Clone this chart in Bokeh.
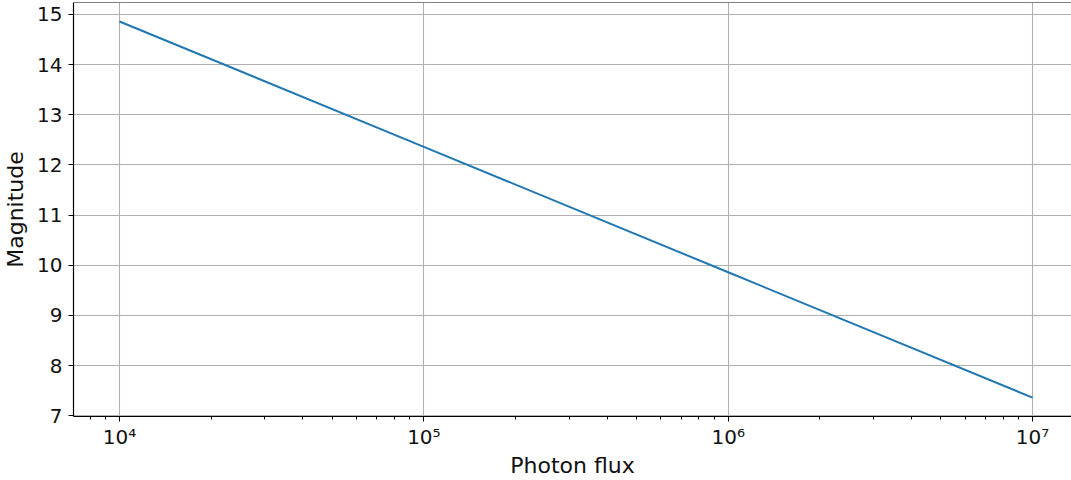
from bokeh.plotting import figure
from bokeh.models import FixedTicker, CustomJSTickFormatter, Span, Range1d
from bokeh.embed import file_html
from bokeh.resources import INLINE

# Data
photon_flux = [1e4, 1e5, 1e6, 1e7]
magnitude = [14.86, 12.36, 9.86, 7.36]

x_major_ticks = [1e4, 1e5, 1e6, 1e7]
x_minor_ticks = [m * 10 ** e for e in range(3, 8) for m in range(2, 10)]
y_ticks = [7, 8, 9, 10, 11, 12, 13, 14, 15]

x_lo, x_hi = 10 ** 3.8488, 10 ** 7.128
y_lo, y_hi = 6.985, 15.238

p = figure(width=1071, height=480, x_axis_type="log",
           x_range=Range1d(x_lo, x_hi), y_range=Range1d(y_lo, y_hi),
           output_backend="svg", toolbar_location=None,
           min_border_left=73, min_border_right=0,
           min_border_top=2, min_border_bottom=62)
p.outline_line_color = None
p.background_fill_color = "white"
p.border_fill_color = "white"

p.line(photon_flux, magnitude, line_color="#1f77b4", line_width=2)

# top spine
p.add_layout(Span(location=y_hi, dimension="width", line_color="black", line_width=1.2))

tick_font = "DejaVu Sans"
for ax in (p.xaxis[0], p.yaxis[0]):
    ax.axis_line_color = "black"
    ax.axis_line_width = 1.2
    ax.major_tick_line_color = "black"
    ax.major_tick_in = 0
    ax.major_tick_out = 5
    ax.minor_tick_line_color = "black"
    ax.minor_tick_in = 0
    ax.minor_tick_out = 3
    ax.major_label_text_font = tick_font
    ax.major_label_text_font_size = "20px"
    ax.major_label_text_color = "#111111"
    ax.axis_label_text_font = tick_font
    ax.axis_label_text_font_size = "22px"
    ax.axis_label_text_font_style = "normal"
    ax.axis_label_text_color = "#111111"

p.xaxis.ticker = FixedTicker(ticks=x_major_ticks, minor_ticks=x_minor_ticks)
p.xaxis.formatter = CustomJSTickFormatter(code="""
const sup = {'0':'\u2070','1':'\u00b9','2':'\u00b2','3':'\u00b3','4':'\u2074','5':'\u2075','6':'\u2076','7':'\u2077','8':'\u2078','9':'\u2079','-':'\u207b'};
const e = Math.round(Math.log10(tick)).toString();
let s = '';
for (const c of e) s += sup[c];
return '10' + s;
""")
p.xaxis.major_label_standoff = 3
p.xaxis.axis_label = "Photon flux"
p.xaxis.axis_label_standoff = 1

p.yaxis.ticker = FixedTicker(ticks=y_ticks, minor_ticks=[])
p.yaxis.major_label_standoff = 6
p.yaxis.axis_label = "Magnitude"
p.yaxis.axis_label_standoff = 6

p.xgrid.ticker = FixedTicker(ticks=x_major_ticks)
p.ygrid.ticker = FixedTicker(ticks=y_ticks)
for g in (p.xgrid[0], p.ygrid[0]):
    g.grid_line_color = "#b0b0b0"
    g.grid_line_width = 1.1

open("out.html", "w").write(file_html(p, INLINE))
